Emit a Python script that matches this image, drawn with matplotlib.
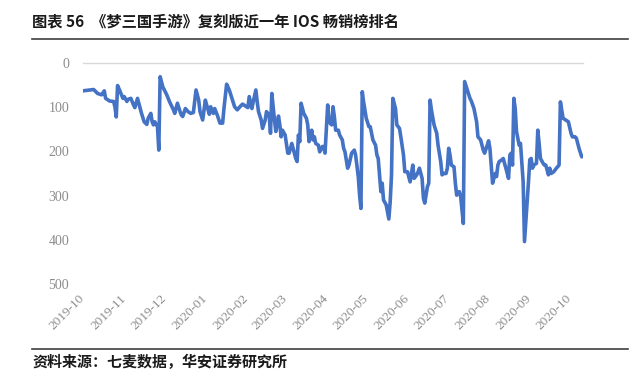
import matplotlib
matplotlib.use('Agg')
import matplotlib.pyplot as plt
import pandas as pd
from matplotlib.lines import Line2D

title = "图表 56  《梦三国手游》复刻版近一年 IOS 畅销榜排名"
source = "资料来源：七麦数据，华安证券研究所"
start_date = "2019-10-01"

day_offsets = [0, 8, 11, 14, 16, 17, 20, 23, 24, 25, 26, 28, 30, 31, 33, 34, 36, 38, 39, 41,
               43, 44, 46, 48, 49, 51, 52, 53, 54, 56, 57, 58, 60, 63, 65, 68, 69, 71, 73, 74,
               75, 77, 79, 81, 83, 85, 87, 88, 90, 92, 93, 95, 96, 98, 99, 101, 103, 105, 106, 108,
               110, 112, 114, 116, 118, 120, 123, 124, 125, 127, 128, 130, 131, 132, 134, 135, 137, 138, 140, 141,
               142, 144, 145, 147, 148, 149, 150, 152, 154, 155, 157, 158, 160, 161, 162, 163, 164, 166, 168, 169,
               170, 172, 173, 174, 175, 177, 178, 180, 181, 182, 184, 185, 187, 188, 189, 190, 192, 193, 195, 196,
               197, 199, 200, 202, 204, 205, 207, 208, 209, 210, 211, 213, 215, 216, 218, 220, 221, 222, 224, 225,
               226, 228, 230, 231, 232, 233, 235, 236, 238, 239, 241, 242, 244, 246, 247, 248, 249, 251, 252, 253,
               255, 256, 257, 259, 260, 261, 262, 264, 266, 267, 269, 270, 271, 273, 274, 275, 276, 277, 279, 280,
               281, 283, 284, 286, 287, 289, 291, 292, 294, 296, 297, 299, 301, 302, 304, 305, 306, 307, 308, 310,
               311, 312, 313, 315, 316, 318, 320, 321, 322, 323, 324, 325, 326, 328, 329, 331, 332, 333, 335, 336,
               337, 338, 339, 341, 342, 343, 344, 346, 347, 348, 350, 351, 352, 354, 356, 358, 359, 361, 363, 365,
               367, 368, 370, 371, 373, 375, 376]

ranks = [63, 60, 69, 72, 63, 80, 86, 87, 99, 122, 51, 65, 80, 76, 87, 82, 80, 95, 101, 80,
         103, 114, 133, 139, 125, 114, 133, 140, 133, 144, 197, 31, 54, 72, 87, 106, 114, 91, 110, 118,
         121, 103, 110, 114, 112, 61, 84, 110, 129, 84, 95, 116, 99, 114, 103, 118, 136, 136, 103, 48,
         61, 80, 99, 106, 99, 93, 99, 101, 76, 103, 88, 61, 88, 110, 129, 148, 129, 110, 118, 159,
         69, 129, 155, 120, 140, 167, 152, 163, 204, 204, 182, 193, 216, 223, 163, 178, 91, 114, 125, 140,
         178, 152, 174, 167, 182, 186, 201, 189, 189, 204, 95, 133, 140, 99, 121, 152, 152, 163, 174, 193,
         201, 238, 231, 204, 197, 208, 257, 299, 329, 65, 88, 125, 144, 144, 174, 186, 208, 216, 291, 272,
         310, 321, 353, 314, 253, 80, 103, 140, 148, 167, 208, 246, 246, 269, 250, 231, 261, 253, 246, 238,
         261, 306, 317, 280, 272, 84, 106, 140, 159, 186, 223, 253, 250, 250, 238, 193, 208, 231, 235, 272,
         299, 291, 302, 363, 42, 61, 80, 86, 103, 133, 167, 174, 197, 204, 186, 176, 193, 231, 272, 250,
         257, 231, 223, 219, 216, 238, 261, 208, 204, 231, 80, 103, 155, 186, 182, 269, 404, 359, 269, 219,
         216, 238, 231, 227, 152, 182, 216, 227, 231, 231, 253, 238, 250, 246, 238, 231, 88, 125, 129, 133,
         159, 167, 167, 170, 193, 212, 212]

y_ticks = [0, 100, 200, 300, 400, 500]
x_tick_labels = ["2019-10", "2019-11", "2019-12", "2020-01", "2020-02", "2020-03", "2020-04",
                 "2020-05", "2020-06", "2020-07", "2020-08", "2020-09", "2020-10"]

cjk = ['Noto Sans CJK SC', 'DejaVu Sans']
serif = 'Liberation Serif'

dates = pd.Timestamp(start_date) + pd.to_timedelta(day_offsets, unit='D')
tick_dates = pd.to_datetime([s + "-01" for s in x_tick_labels])

fig = plt.figure(figsize=(6.42, 3.77), dpi=100)
W, H = 642, 377
ax = fig.add_axes([83 / W, 1 - 284 / H, 500 / W, 221 / H])

ax.plot(dates, ranks, color='#4472C4', lw=2.6, solid_joinstyle='round', solid_capstyle='round')

ax.set_ylim(500, 0)
ax.set_xlim(dates[0], dates[-1])
ax.set_yticks(y_ticks)
ax.set_yticklabels([str(v) for v in y_ticks], fontfamily=serif, fontsize=10, color='#8c8c8c')
ax.set_xticks(tick_dates)
ax.set_xticklabels(x_tick_labels, fontfamily=serif, fontsize=9.5, color='#8c8c8c',
                   rotation=45, ha='right', va='center', rotation_mode='anchor')
ax.tick_params(axis='y', length=0, pad=10)
ax.tick_params(axis='x', length=0, pad=9)

for s in ['left', 'right', 'bottom']:
    ax.spines[s].set_visible(False)
ax.spines['top'].set_color('#d9d9d9')
ax.spines['top'].set_linewidth(1.0)

fig.text(32 / W, 1 - 21 / H, title, fontfamily=cjk, fontsize=11, fontweight='bold',
         color='#1a1a1a', ha='left', va='center')
fig.add_artist(Line2D([32 / W, 628 / W], [1 - 39 / H, 1 - 39 / H], color='#404040', lw=1.2))
fig.add_artist(Line2D([32 / W, 628 / W], [1 - 349 / H, 1 - 349 / H], color='#404040', lw=1.2))
fig.text(32 / W, 1 - 362 / H, source, fontfamily=cjk, fontsize=10.8, fontweight='bold',
         color='#1a1a1a', ha='left', va='center')

fig.savefig('out.png', dpi=100)
